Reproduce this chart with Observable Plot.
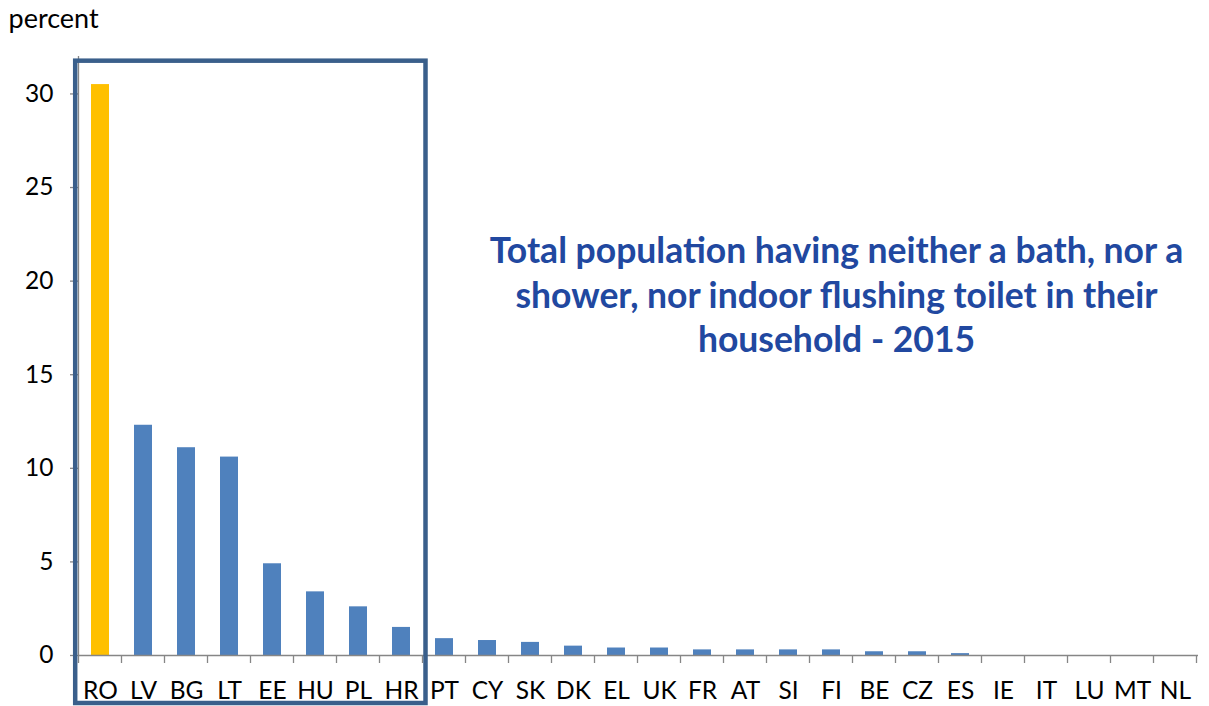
<!DOCTYPE html>
<html>
<head>
<meta charset="utf-8">
<script src="https://cdn.jsdelivr.net/npm/d3@7"></script>
<script src="https://cdn.jsdelivr.net/npm/@observablehq/plot@0.6"></script>
<style>
  html, body { margin: 0; padding: 0; background: #fff; }
  svg { display: block; }
</style>
</head>
<body>
<div id="chart"></div>
<script>
const countries = ["RO","LV","BG","LT","EE","HU","PL","HR","PT","CY","SK","DK","EL","UK","FR","AT","SI","FI","BE","CZ","ES","IE","IT","LU","MT","NL"];
const values = [30.5,12.3,11.1,10.6,4.9,3.4,2.6,1.5,0.9,0.8,0.7,0.5,0.4,0.4,0.3,0.3,0.3,0.3,0.2,0.2,0.1,0,0,0,0,0];
const highlighted = ["RO"];
const boxedCountries = ["RO","LV","BG","LT","EE","HU","PL","HR"];
const yTicks = [0,5,10,15,20,25,30];
const yLabel = "percent";
const titleLines = [
  "Total population having neither a bath, nor a",
  "shower, nor indoor flushing toilet in their",
  "household - 2015"
];

const data = countries.map((c, i) => ({country: c, value: values[i], group: highlighted.includes(c) ? "hi" : "lo"}));

const AXIS = "#868686";
const FONT = "Lato, 'Open Sans', sans-serif";

const chart = Plot.plot({
  width: 1209,
  height: 706,
  marginLeft: 78,
  marginRight: 11,
  marginTop: 56,
  marginBottom: 51,
  style: {fontFamily: FONT, fontSize: "24px", color: "#000", background: "#fff", overflow: "visible"},
  x: {domain: countries, paddingInner: 0.58, paddingOuter: 0.29, axis: null},
  y: {domain: [0, 32], axis: null},
  color: {domain: ["hi", "lo"], range: ["#FFC000", "#4F81BD"]},
  marks: [
    Plot.barY(data, {x: "country", y: "value", fill: "group"}),
    Plot.ruleY([0], {stroke: AXIS, strokeWidth: 1.3}),
    Plot.axisY({ticks: yTicks, tickSize: 8, tickPadding: 17, stroke: AXIS, strokeWidth: 1.3, label: null, tickFormat: d => String(d), fontSize: 24.5, fill: "#000"}),
    Plot.axisX({tickSize: 0, tickPadding: 26, label: null, fontSize: 24.5, fill: "#000"}),
    Plot.text([titleLines.join("\n")], {
      x: () => "FI", y: () => 19.34, dx: 5,
      lineAnchor: "middle", textAnchor: "middle", lineHeight: 1.25,
      fontSize: 35.5, fontWeight: "bold", fill: "#2148A0", fontFamily: FONT
    }),
    Plot.text([yLabel], {frameAnchor: "top-left", dx: -70, dy: -48, fontSize: 27, fill: "#000", textAnchor: "start", lineAnchor: "top"})
  ]
});

document.getElementById("chart").appendChild(chart);

// Annotations positioned from Plot's own scales
const xs = chart.scale("x");
const ys = chart.scale("y");
const step = xs.step, bw = xs.bandwidth;
const leftOf = c => xs.apply(c) - (step - bw) / 2;
const svg = d3.select(chart);
const y0 = ys.apply(0), yTop = ys.apply(32);
const x0 = leftOf(countries[0]);

// y axis line
svg.append("line").attr("x1", x0).attr("x2", x0).attr("y1", y0).attr("y2", yTop)
  .attr("stroke", AXIS).attr("stroke-width", 1.3);

// category boundary ticks on x axis
const bounds = countries.map(leftOf).concat([leftOf(countries[countries.length - 1]) + step]);
svg.append("g").selectAll("line").data(bounds).join("line")
  .attr("x1", d => d).attr("x2", d => d).attr("y1", y0).attr("y2", y0 + 8)
  .attr("stroke", AXIS).attr("stroke-width", 1.3);

// highlight box around first group
const bx1 = leftOf(boxedCountries[0]) - 3.3;
const bx2 = leftOf(boxedCountries[boxedCountries.length - 1]) + step + 3;
const by1 = ys.apply(31.75);
const by2 = y0 + 48;
svg.append("rect").attr("x", bx1).attr("y", by1).attr("width", bx2 - bx1).attr("height", by2 - by1)
  .attr("fill", "none").attr("stroke", "#3A5F8B").attr("stroke-width", 4.5);
</script>
</body>
</html>
